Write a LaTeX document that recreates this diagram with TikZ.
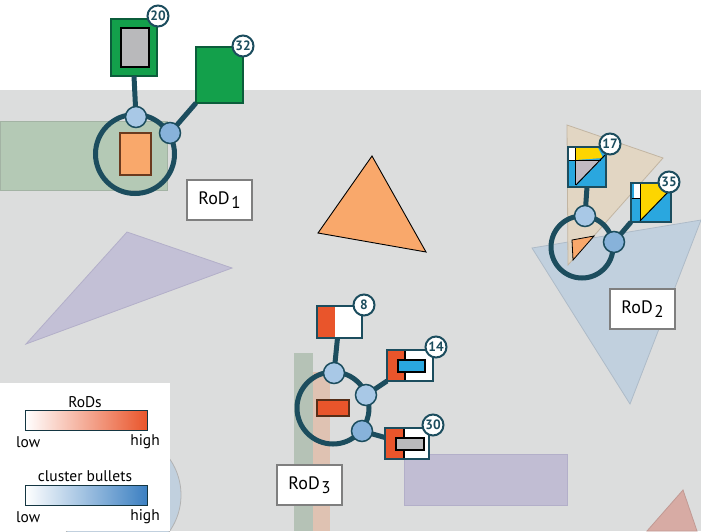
\documentclass[tikz,border=0pt]{standalone}
\usepackage{fontspec}
\setmainfont{PT Sans}
\usetikzlibrary{calc}
\definecolor{bg}{HTML}{DCDDDD}
\definecolor{ringc}{HTML}{1C4D5E}
\definecolor{bulA}{HTML}{A8C8E6}
\definecolor{bulB}{HTML}{87B2DA}
\definecolor{gfill}{HTML}{13A04B}
\definecolor{gdark}{HTML}{0B5D3B}
\definecolor{rodred}{HTML}{E9552B}
\definecolor{cblue}{HTML}{2AA7DF}
\definecolor{cyellow}{HTML}{FDD500}
\definecolor{grayin}{HTML}{B9B9BB}
\definecolor{corange}{HTML}{F9A86B}
\definecolor{oedge}{HTML}{6B3A1E}
\definecolor{greenband}{HTML}{B4C9B5}
\definecolor{purpletri}{HTML}{C3C0D6}
\definecolor{purpleedge}{HTML}{B3AFC9}
\definecolor{purplerect}{HTML}{C1BDD3}
\definecolor{beige}{HTML}{E4D5BF}
\definecolor{bluetri}{HTML}{C1D0DE}
\definecolor{grayband}{HTML}{B5C2B6}
\definecolor{pinkband}{HTML}{DFC2B2}
\definecolor{pinktri}{HTML}{D7ABA4}
\definecolor{labgray}{HTML}{7F7F7F}
\definecolor{legblue}{HTML}{3C80C2}
\definecolor{graytri}{HTML}{C2B9C2}
\tikzset{
  ringline/.style={draw=ringc, line width=5pt},
  conn/.style={draw=ringc, line width=5pt},
  bul/.style={circle, draw=ringc, line width=1.5pt, fill=bulA, minimum size=21pt, inner sep=0pt},
  bulb/.style={bul, fill=bulB},
  badge/.style={circle, draw=ringc, line width=2pt, fill=white, minimum size=21pt, inner sep=0pt, text=ringc, font=\fontsize{13.5}{13.5}\selectfont\bfseries},
  rodlabel/.style={draw=labgray, line width=2pt, fill=white, minimum width=65pt, minimum height=40pt, inner sep=0pt, font=\fontsize{18}{18}\selectfont},
  gbox/.style={draw=gdark, line width=2pt, inner sep=0pt, outer sep=0pt},
  cbox/.style={draw=ringc, line width=2pt, inner sep=0pt, outer sep=0pt},
  legtext/.style={font=\fontsize{15.5}{15.5}\selectfont, inner sep=0pt},
  bgshape/.style={line width=0.8pt},
}
\newcommand{\rodtxt}[1]{RoD\kern1.5pt\raisebox{-4.5pt}{\fontsize{17}{17}\selectfont #1}}
\begin{document}
\begin{tikzpicture}[x=1pt,y=-1pt]
\useasboundingbox (0,0) rectangle (701,531);
\fill[white] (0,0) rectangle (701,531);
\fill[bg] (0,90) rectangle (701,531);
% background shapes
\fill[greenband, draw=greenband!85!black!90, bgshape] (0,121) rectangle (167,190);
\filldraw[fill=purpletri, draw=purpleedge, bgshape] (127,232) -- (232,268) -- (26,344) -- cycle;
\filldraw[fill=bluetri, draw=bluetri!90!black, bgshape] (532,248) -- (701,220) -- (630,404) -- cycle;
\filldraw[fill=beige, fill opacity=0.85, draw=beige!85!black, bgshape] (567,125) -- (663,158) -- (568,265) -- cycle;
\filldraw[fill=purplerect, draw=purpleedge, bgshape] (404,454) rectangle (567,505);
\filldraw[fill=pinktri, draw=pinktri!90!black, bgshape] (683,490) -- (647,531) -- (697,531) -- cycle;
\fill[grayband] (294,353) rectangle (313,531);
\fill[pinkband] (313,372) rectangle (330,531);
\filldraw[fill=bluetri, draw=labgray!60, bgshape] (118,495) circle (63);
\filldraw[fill=corange, draw=black, line width=0.9pt] (372,156) -- (318,233) -- (426,252) -- cycle;

% legend
\fill[white] (0,383) rectangle (170,531);
\node[legtext] (legA) at (85,402) {RoDs};
\shade[left color=white, right color=rodred] (25,410) rectangle (147,430);
\draw[ringc!70!black, line width=1pt] (25,410) rectangle (147,430);
\node[legtext, anchor=west] (lowA) at (16,442) {low};
\node[legtext, anchor=east] (highA) at (160,442) {high};
\node[legtext] (legB) at (85,476) {cluster bullets};
\shade[left color=white, right color=legblue] (25,485) rectangle (147,505);
\draw[ringc!70!black, line width=1pt] (25,485) rectangle (147,505);
\node[legtext, anchor=west] (lowB) at (16,517) {low};
\node[legtext, anchor=east] (highB) at (160,517) {high};

% ===== RoD1 =====
\filldraw[fill=corange, draw=oedge, line width=1.2pt] (120,133) rectangle (151,175);
\draw[ringline] (135,154) circle (39.5);
\fill[gfill] (111,19) rectangle (157,76);
\filldraw[fill=grayin, draw=black, line width=2pt] (121,28) rectangle (149,67);
\node[gbox, minimum width=46pt, minimum height=57pt] (box20) at (134,47.5) {};
\node[gbox, fill=gfill, minimum width=47pt, minimum height=56pt] (box32) at (219.5,75) {};
\coordinate (b11) at (136,117);
\coordinate (b12) at (170,133);
\draw[conn] (box20.south) -- (b11);
\draw[conn] (box32.south west) -- (b12);
\node[bul] (b11n) at (b11) {};
\node[bulb] (b12n) at (b12) {};
\node[badge] (n20) at (158,16) {20};
\node[badge] (n32) at (243,46) {32};
\node[rodlabel] (rod1) at (219.5,200) {\rodtxt{1}};

% ===== RoD2 =====
\filldraw[fill=corange, draw=black, line width=0.8pt] (572,240) -- (594,236) -- (573,260) -- cycle;
\draw[ringline] (582,247) circle (31);
% box 17 contents
\fill[cblue] (568,147) rectangle (606,187);
\fill[white] (569,148) rectangle (575,160);
\fill[cyellow] (575,148) -- (598,148) -- (603,158) -- (575,160) -- cycle;
\fill[graytri] (575,160) -- (601,160) -- (576,184) -- cycle;
\draw[black, line width=1pt] (575,148) -- (575,185);
\draw[black, line width=1pt] (569,160) -- (601,160);
\draw[black, line width=1pt] (576,185) -- (605,155);
\node[cbox, minimum width=38pt, minimum height=40pt] (box17) at (587,167) {};
% box 35 contents
\fill[cblue] (631,183) rectangle (671,222);
\fill[white] (634,184) rectangle (640,198);
\fill[cyellow] (640,184) -- (669,184) -- (670,190) -- (640,221) -- cycle;
\draw[black, line width=1pt] (640,184) -- (640,221);
\draw[black, line width=1pt] (632,198) -- (640,198);
\draw[black, line width=1pt] (640,221) -- (670,190);
\node[cbox, minimum width=40pt, minimum height=39pt] (box35) at (651,202.5) {};
\coordinate (b21) at (585,216);
\coordinate (b22) at (614,242);
\draw[conn] (box17.south) -- (b21);
\draw[conn] (box35.south west) -- (b22);
\node[bul] (b21n) at (b21) {};
\node[bulb] (b22n) at (b22) {};
\node[badge] (n17) at (610,144) {17};
\node[badge] (n35) at (669,182) {35};
\node[rodlabel] (rod2) at (642.5,309) {\rodtxt{2}};

% ===== RoD3 =====
\filldraw[fill=rodred, draw=oedge!80!black, line width=1.2pt] (317,400) rectangle (349,416);
\draw[ringline] (333,408) circle (36);
% box 8
\fill[white] (317,306) rectangle (362,338);
\fill[rodred] (317,306) rectangle (335,338);
\node[cbox, minimum width=45pt, minimum height=32pt] (box8) at (339.5,322) {};
% box 14
\fill[white] (387,350) rectangle (433,381);
\fill[rodred] (387,350) rectangle (405,381);
\draw[black, line width=1.2pt] (405,350) -- (405,381);
\filldraw[fill=cblue, draw=black, line width=1.5pt] (398,360) rectangle (425,372);
\node[cbox, minimum width=46pt, minimum height=31pt] (box14) at (410,365.5) {};
% box 30
\fill[white] (385,428) rectangle (429,459);
\fill[rodred] (385,428) rectangle (403,459);
\draw[black, line width=1.2pt] (404,428) -- (404,459);
\filldraw[fill=grayin, draw=black, line width=1.5pt] (396,438) rectangle (424,450);
\node[cbox, minimum width=44pt, minimum height=31pt] (box30) at (407,443.5) {};
\coordinate (b31) at (334,373);
\coordinate (b32) at (366,395);
\coordinate (b33) at (362,431);
\draw[conn] ($(box8.south)+(-2,0)$) -- (b31);
\draw[conn] (box14.south west) -- (b32);
\draw[conn] ($(box30.west)+(0,-6)$) -- (b33);
\node[bul] (b31n) at (b31) {};
\node[bul] (b32n) at (b32) {};
\node[bulb] (b33n) at (b33) {};
\node[badge] (n8) at (364,305) {8};
\node[badge] (n14) at (436,347) {14};
\node[badge] (n30) at (433,425) {30};
\node[rodlabel] (rod3) at (309.5,485) {\rodtxt{3}};
\end{tikzpicture}
\end{document}
